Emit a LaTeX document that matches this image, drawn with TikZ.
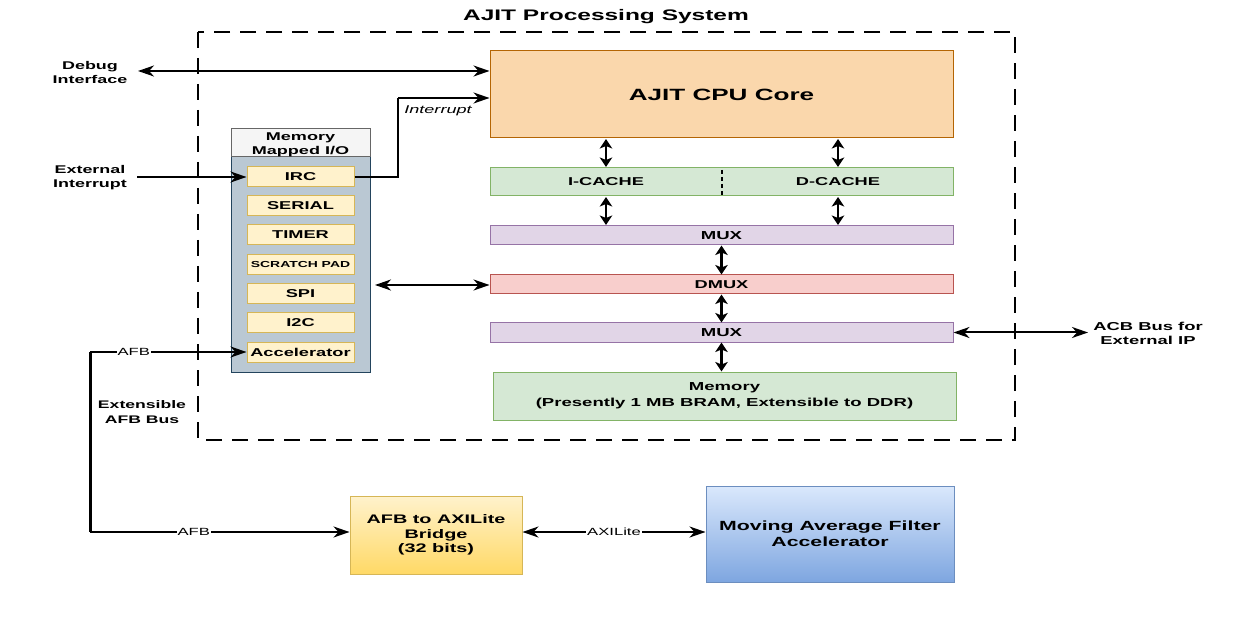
\documentclass[tikz,border=0pt]{standalone}
\usepackage{fontspec}
\setmainfont{Liberation Sans}[FakeStretch=1.6]
\usetikzlibrary{arrows.meta}
\definecolor{cpuF}{HTML}{FAD7AC}\definecolor{cpuD}{HTML}{B46504}
\definecolor{grnF}{HTML}{D5E8D4}\definecolor{grnD}{HTML}{82B366}
\definecolor{purF}{HTML}{E1D5E7}\definecolor{purD}{HTML}{9673A6}
\definecolor{redF}{HTML}{F8CECC}\definecolor{redD}{HTML}{B85450}
\definecolor{mmioF}{HTML}{BAC8D3}\definecolor{mmioD}{HTML}{23445D}
\definecolor{hdrF}{HTML}{F5F5F5}\definecolor{hdrD}{HTML}{666666}
\definecolor{itF}{HTML}{FFF2CC}\definecolor{itD}{HTML}{D6B656}
\definecolor{ylw}{HTML}{FFD966}
\definecolor{bluF}{HTML}{DAE8FC}\definecolor{bluB}{HTML}{7EA6E0}\definecolor{bluD}{HTML}{6C8EBF}
\newcommand{\fs}[2]{\fontsize{#1}{#2}\selectfont}
\tikzset{
  hTip/.tip={Stealth[length=16pt,width=11pt,inset=5pt]},
  vTip/.tip={Stealth[length=9.5pt,width=12.5pt,inset=2.5pt]},
  blk/.style={draw, line width=1pt, inner sep=0pt, align=center},
  item/.style={blk, fill=itF, draw=itD, minimum width=107pt, minimum height=20pt, font=\bfseries\fs{11.4}{13}},
  lbl/.style={font=\bfseries\fs{11.2}{14}, align=center},
  bar/.style={blk, minimum width=463pt, minimum height=19pt, font=\bfseries\fs{11.6}{12}},
  arr/.style={line width=2pt, -{hTip}},
  darr/.style={line width=2pt, {hTip}-{hTip}},
  vdarr/.style={line width=2.8pt, {vTip}-{vTip}},
  elbl/.style={fill=white, inner sep=1pt, font=\fs{10.4}{11}}
}
\begin{document}
\begin{tikzpicture}[x=1pt,y=-1pt]
\useasboundingbox (0,0) rectangle (1245,620);
% system boundary
\draw[dash pattern=on 16pt off 10pt, line width=1.4pt] (198,32) rectangle (1015,440);
\node[font=\bfseries\fs{15.3}{17}] (title) at (606,17) {AJIT Processing System};
% CPU side
\node[blk, fill=cpuF, draw=cpuD, minimum width=463pt, minimum height=87pt, font=\bfseries\fs{16.3}{18}] (cpu) at (721.5,94.5) {AJIT CPU Core};
\node[blk, fill=grnF, draw=grnD, minimum width=463pt, minimum height=28pt] (cache) at (721.5,182) {};
\node[font=\bfseries\fs{11.4}{12}] (icache) at (606,182) {I-CACHE};
\node[font=\bfseries\fs{11.4}{12}] (dcache) at (838,182) {D-CACHE};
\draw[line width=2.2pt, dash pattern=on 4pt off 3pt] (722,170) -- (722,195);
\node[bar, fill=purF, draw=purD] (mux1) at (721.5,235.5) {MUX};
\node[bar, fill=redF, draw=redD, font=\bfseries\fs{11.4}{12}] (dmux) at (721.5,284.5) {DMUX};
\node[bar, fill=purF, draw=purD] (mux2) at (721.5,332.5) {MUX};
\node[blk, fill=grnF, draw=grnD, minimum width=463pt, minimum height=48pt, font=\bfseries\fs{11.6}{16}] (mem) at (724.5,396) {Memory\\(Presently 1 MB BRAM, Extensible to DDR)};
% vertical arrows
\draw[vdarr] (606,139) -- (606,167);
\draw[vdarr] (838,139) -- (838,167);
\draw[vdarr] (606,197) -- (606,225);
\draw[vdarr] (838,197) -- (838,225);
\draw[vdarr] (mux1.south) -- (dmux.north);
\draw[vdarr] (dmux.south) -- (mux2.north);
\draw[vdarr] (mux2.south) -- (mem.north -| mux2.south);
% MMIO
\node[draw=mmioD, fill=mmioF, line width=1pt, minimum width=139pt, minimum height=215pt, inner sep=0pt] (mmio) at (300.5,264.5) {};
\node[draw=hdrD, fill=hdrF, line width=1pt, minimum width=139pt, minimum height=28pt, inner sep=0pt] (mmiohdr) at (300.5,143) {};
\node[align=center, font=\bfseries\fs{11.3}{14.5}] (mmiotxt) at (300.5,145) {Memory\\Mapped I/O};
\node[item] (irc) at (300.5,177) {IRC};
\node[item] (serial) at (300.5,206) {SERIAL};
\node[item] (timer) at (300.5,235) {TIMER};
\node[item, font=\bfseries\fs{8.7}{9}] (scratch) at (300.5,265) {SCRATCH PAD};
\node[item] (spi) at (300.5,294) {SPI};
\node[item] (i2c) at (300.5,323) {I2C};
\node[item] (accel) at (300.5,352) {Accelerator};
% external labels
\node[lbl] (debug) at (90,72.5) {Debug\\Interface};
\node[lbl] (extint) at (90,178) {External\\Interrupt};
\node[lbl, font=\bfseries\fs{11.5}{14}] (acb) at (1148,333) {ACB Bus for\\External IP};
\node[lbl, font=\bfseries\fs{11}{15}] (extafb) at (142,412) {Extensible\\AFB Bus};
\coordinate (dbgL) at (138,71);
\coordinate (eiL) at (137,177);
\coordinate (acbR) at (1088,332.5);
\coordinate (afbTop) at (90,352);
\coordinate (afbBot) at (90,532);
\coordinate (mmioR) at (375,285);
% connectors
\draw[darr] (dbgL) -- (cpu.west |- dbgL);
\draw[arr] (eiL) -- (irc.west);
\draw[line width=2.8pt] (irc.east) -- (398,177) -- (398,98);
\draw[arr] (398,98) -- (cpu.west |- 0,98);
\node[font=\itshape\fs{11.3}{12}] (intlbl) at (438,111) {Interrupt};
\draw[darr] (mmioR) -- (dmux.west |- mmioR);
\draw[darr] (mux2.east) -- (acbR);
% bottom
\node[blk, top color=itF, bottom color=ylw, draw=itD, minimum width=172pt, minimum height=78pt, font=\bfseries\fs{12.4}{14.5}] (bridge) at (436,535) {AFB to AXILite\\Bridge\\(32 bits)};
\node[blk, top color=bluF, bottom color=bluB, draw=bluD, minimum width=248pt, minimum height=96pt, font=\bfseries\fs{13.3}{16}] (maf) at (830,534) {Moving Average Filter\\Accelerator};
\draw[arr] (afbTop) -- node[elbl, pos=0.28] {AFB} (accel.west);
\draw[line width=3pt] (afbTop) -- (afbBot);
\draw[arr] (afbBot) -- node[elbl, pos=0.4] {AFB} (bridge.west |- afbBot);
\draw[darr] (bridge.east |- afbBot) -- node[elbl] {AXILite} (maf.west |- afbBot);
\end{tikzpicture}
\end{document}
